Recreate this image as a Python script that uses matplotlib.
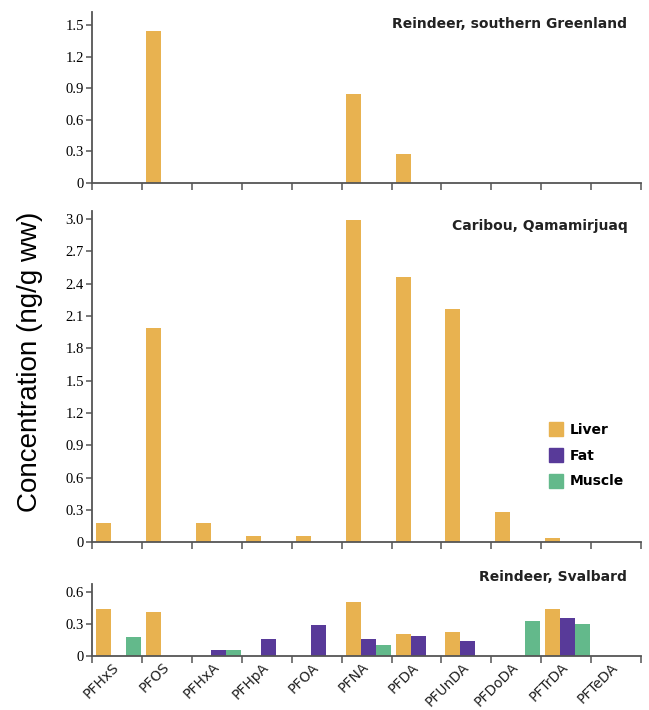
import matplotlib.pyplot as plt
from matplotlib.patches import Patch
import numpy as np

compounds = ["PFHxS", "PFOS", "PFHxA", "PFHpA", "PFOA", "PFNA",
             "PFDA", "PFUnDA", "PFDoDA", "PFTrDA", "PFTeDA"]

# Reindeer, southern Greenland (liver only)
greenland_liver = [0, 1.44, 0, 0, 0, 0.84, 0.27, 0, 0, 0, 0]

# Caribou, Qamamirjuaq (liver only)
caribou_liver = [0.18, 1.99, 0.18, 0.06, 0.06, 2.99, 2.46, 2.16, 0.28, 0.04, 0]

# Reindeer, Svalbard
svalbard_liver = [0.44, 0.42, 0, 0, 0, 0.51, 0.21, 0.23, 0, 0.44, 0]
svalbard_fat = [0, 0, 0.06, 0.16, 0.29, 0.16, 0.19, 0.14, 0, 0.36, 0]
svalbard_muscle = [0.18, 0, 0.06, 0, 0, 0.10, 0, 0, 0.33, 0.30, 0]

c_liver = "#E8B250"
c_fat = "#583A99"
c_muscle = "#63B98B"

label_font = ["Liberation Sans Narrow", "DejaVu Sans"]
num_font = ["Liberation Serif", "DejaVu Serif"]

fig = plt.figure(figsize=(6.49, 7.10), dpi=100)
left, width = 0.1422, 0.9877 - 0.1422
ax_top = fig.add_axes([left, 0.7427, width, 0.2397])
ax_mid = fig.add_axes([left, 0.2362, width, 0.4662])
ax_bot = fig.add_axes([left, 0.0761, width, 0.1014])

x = np.arange(len(compounds))
bw = 0.3


def style(ax, ymax, ticks, title):
    ax.set_xlim(0, len(compounds))
    ax.set_ylim(0, ymax)
    for s in ["top", "right"]:
        ax.spines[s].set_visible(False)
    for s in ["left", "bottom"]:
        ax.spines[s].set_color("#555555")
        ax.spines[s].set_linewidth(1.3)
    ax.set_xticks(np.arange(len(compounds) + 1))
    ax.set_xticklabels([])
    ax.set_yticks(ticks)
    ax.set_yticklabels(["0" if t == 0 else f"{t:.1f}" for t in ticks],
                       family=num_font, fontsize=10.5)
    ax.tick_params(axis="x", direction="out", length=5, width=1.1, color="#555555")
    ax.tick_params(axis="y", direction="out", length=4, width=1.1, color="#555555", pad=2)
    ax.text(0.975, 0.93, title, transform=ax.transAxes, ha="right", va="center",
            family=label_font, fontweight="bold", fontsize=10, color="#222222")


ax_top.bar(x + 0.23, greenland_liver, bw, color=c_liver)
style(ax_top, 1.62, np.arange(0, 1.51, 0.3), "Reindeer, southern Greenland")

ax_mid.bar(x + 0.23, caribou_liver, bw, color=c_liver)
style(ax_mid, 3.07, np.arange(0, 3.01, 0.3), "Caribou, Qamamirjuaq")
ax_mid.texts[0].set_position((0.975, 0.955))

ax_bot.bar(x + 0.23, svalbard_liver, bw, color=c_liver)
ax_bot.bar(x + 0.53, svalbard_fat, bw, color=c_fat)
ax_bot.bar(x + 0.83, svalbard_muscle, bw, color=c_muscle)
style(ax_bot, 0.68, [0, 0.3, 0.6], "Reindeer, Svalbard")
ax_bot.texts[0].set_position((0.975, 1.1))

for i, name in enumerate(compounds):
    ax_bot.text(i + 0.5, -0.085, name, rotation=45, rotation_mode="anchor",
                ha="right", va="center", family=label_font, fontsize=10,
                color="#222222", transform=ax_bot.transData, clip_on=False)

handles = [Patch(color=c_liver, label="Liver"),
           Patch(color=c_fat, label="Fat"),
           Patch(color=c_muscle, label="Muscle")]
leg = ax_mid.legend(handles=handles, loc="upper left", bbox_to_anchor=(0.82, 0.385),
                    frameon=False, handlelength=1.0, handleheight=1.2,
                    handletextpad=0.5, labelspacing=0.8, borderpad=0,
                    prop={"family": label_font, "weight": "bold", "size": 10})

fig.text(0.046, 0.49, "Concentration (ng/g ww)", rotation=90, ha="center",
         va="center", family=["Liberation Sans", "DejaVu Sans"], fontsize=20)

fig.savefig("out.png", dpi=100)
